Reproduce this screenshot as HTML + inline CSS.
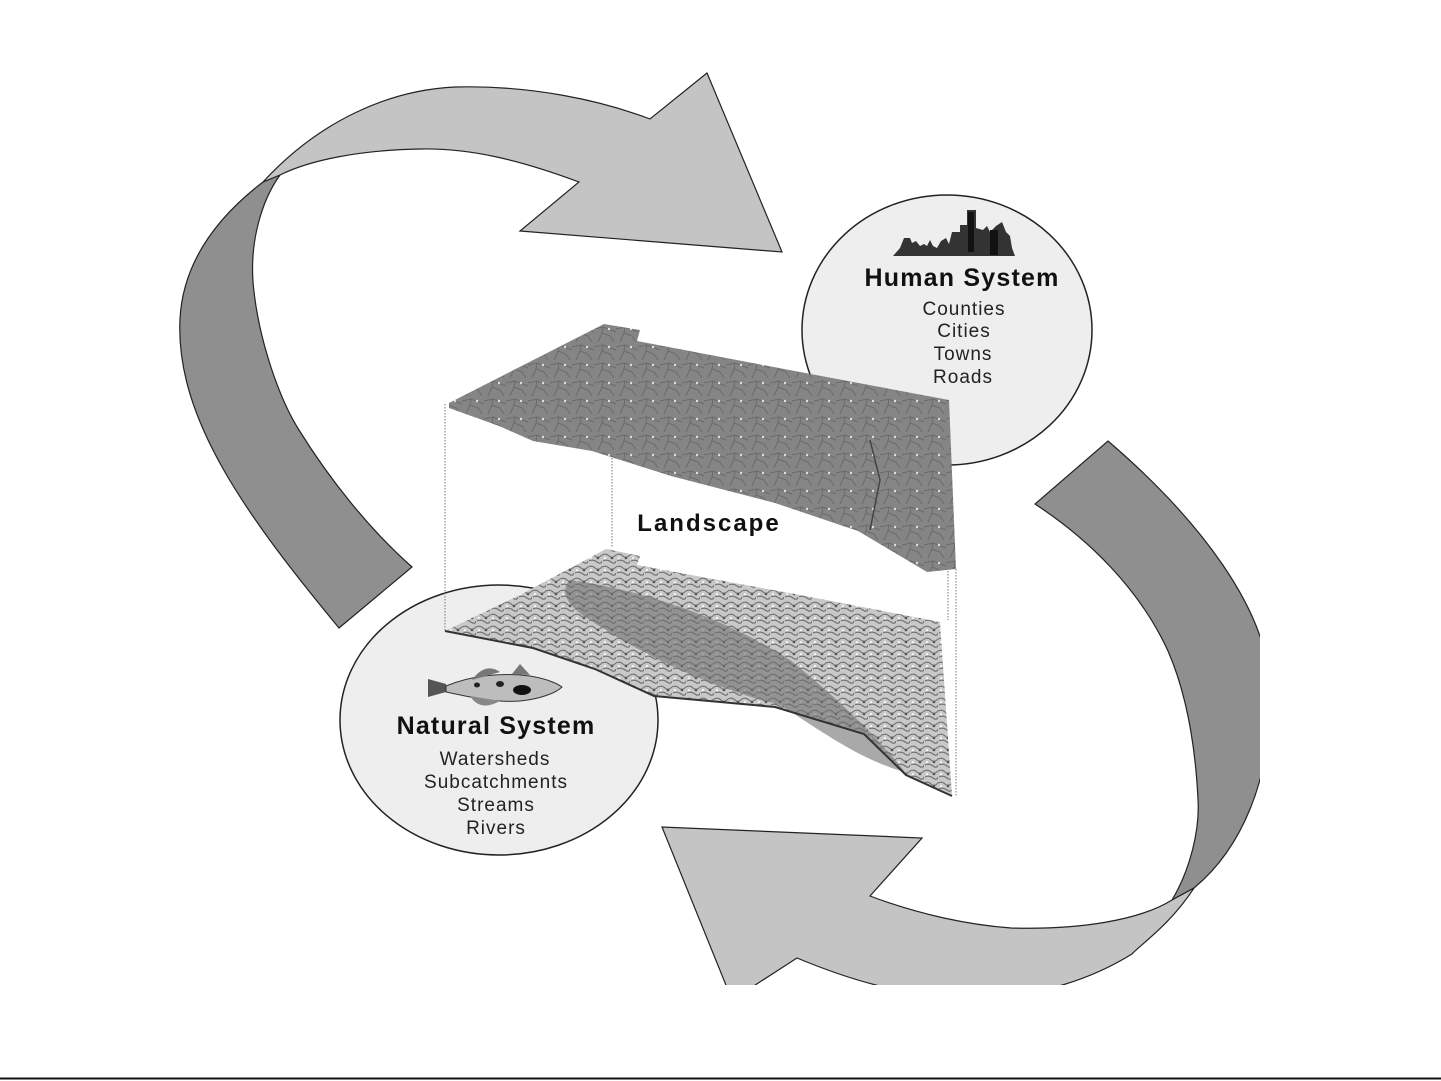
<!DOCTYPE html>
<html><head><meta charset="utf-8"><style>
html,body{margin:0;padding:0;background:#fff;}
svg{display:block;}
</style></head><body>
<svg width="1441" height="1081" viewBox="0 0 1441 1081" xmlns="http://www.w3.org/2000/svg">
<defs>
<clipPath id="cl"><rect x="0" y="0" width="1260" height="985"/></clipPath>
<pattern id="mapP" width="22" height="18" patternUnits="userSpaceOnUse">
<rect width="22" height="18" fill="#858585"/>
<path d="M0 5 L9 3 L22 8 M4 18 L8 9 L16 12 L20 18 M9 3 L8 9" stroke="#6a6a6a" stroke-width="1" fill="none"/>
<circle cx="15" cy="5" r="1.2" fill="#e0e0e0"/>
</pattern>
<pattern id="terP" width="14" height="12" patternUnits="userSpaceOnUse">
<rect width="14" height="12" fill="#c8c8c8"/>
<path d="M0 3 Q4 1 7 4 T14 3 M1 9 Q5 7 9 10 T14 9" stroke="#6e6e6e" stroke-width="1.1" fill="none"/>
<circle cx="10" cy="6" r="1.3" fill="#555"/><circle cx="3" cy="6" r="1" fill="#fff"/>
</pattern>
</defs>

<line x1="0" y1="1078.5" x2="1441" y2="1078.5" stroke="#111" stroke-width="2"/>

<path d="M339,628 C250,520 175,420 180,319 C183,260 220,215 263,182 L280,175 C262,200 250,240 253,282 C258,340 280,400 299,430 C330,480 370,530 412,567 Z" fill="#8f8f8f" stroke="#222" stroke-width="1.2"/>
<path d="M263,182 C320,120 390,90 455,87 C530,85 600,100 650,119 L707,73 L782,252 L520,231 L579,182 C520,160 470,148 421,149 C360,150 310,160 280,175 Z" fill="#c4c4c4" stroke="#222" stroke-width="1.2"/>

<g clip-path="url(#cl)">
<path d="M1108,441 C1200,520 1268,610 1270,688 C1273,780 1240,850 1194,888 L1172,900 C1190,870 1200,830 1198,799 C1195,740 1185,690 1168,651 C1140,590 1090,540 1035,504 Z" fill="#8f8f8f" stroke="#222" stroke-width="1.2"/>
<path d="M1194,888 C1170,925 1140,945 1132,954 C1090,980 1040,995 991,997 C910,1000 850,980 797,958 L732,1000 L662,827 L922,838 L870,896 C920,915 970,925 1011,928 C1080,930 1140,920 1172,900 Z" fill="#c4c4c4" stroke="#222" stroke-width="1.2"/>
</g>

<ellipse cx="947" cy="330" rx="145" ry="135" fill="#eeeeee" stroke="#222" stroke-width="1.5"/>
<ellipse cx="499" cy="720" rx="159" ry="135" fill="#eeeeee" stroke="#222" stroke-width="1.5"/>

<path d="M893,256 L900,248 L904,238 L910,238 L912,243 L916,241 L920,246 L924,244 L927,246 L930,240 L933,246 L937,248 L941,241 L946,238 L949,244 L952,232 L960,232 L960,225 L967,225 L967,210 L976,210 L976,228 L983,230 L987,226 L990,232 L996,226 L1002,222 L1006,232 L1010,236 L1012,248 L1015,256 Z" fill="#333"/>
<rect x="968" y="212" width="6" height="40" fill="#111"/>
<rect x="990" y="230" width="8" height="25" fill="#111"/>

<path d="M428,679 L446,684 L446,692 L428,697 Z" fill="#555"/>
<path d="M446,686 C470,676 500,672 530,676 C548,679 558,684 562,687 C556,693 540,699 520,701 C495,703 470,697 446,692 Z" fill="#bdbdbd" stroke="#333" stroke-width="1"/>
<ellipse cx="522" cy="690" rx="9" ry="5" fill="#111"/>
<ellipse cx="500" cy="684" rx="4" ry="3" fill="#222"/><ellipse cx="477" cy="685" rx="3" ry="2.5" fill="#222"/>
<path d="M472,680 Q485,662 500,672 Z" fill="#777"/>
<path d="M470,696 Q480,712 500,701 Z" fill="#888"/>
<path d="M512,674 L520,664 L530,675 Z" fill="#777"/>

<g stroke="#777" stroke-width="1" stroke-dasharray="1.5,1.5">
<line x1="445" y1="404" x2="445" y2="631"/>
<line x1="612" y1="332" x2="612" y2="547"/>
<line x1="948" y1="400" x2="948" y2="620"/>
<line x1="956" y1="569" x2="956" y2="796"/>
</g>

<path d="M604,324 L640,330 L637,341 L800,372 L949,400 L956,569 L927,572 L858,531 L775,503 L671,476 L592,451 L533,441 L499,426 L449,408 L449,403 Z" fill="url(#mapP)"/>
<path d="M870,440 L880,480 L870,530" stroke="#444" stroke-width="1.5" fill="none"/>

<path d="M606,549 L640,556 L637,565 L800,595 L940,622 L952,796 L906,775 L864,734 L775,707 L654,696 L595,669 L533,648 L445,631 L520,595 Z" fill="url(#terP)"/>
<path d="M570,580 C640,590 720,615 790,660 C840,700 880,740 905,772 C860,760 820,730 780,705 C720,690 650,660 590,620 C565,605 560,590 570,580 Z" fill="#6f6f6f" opacity="0.6"/>
<path d="M445,631 L533,648 L595,669 L654,696 L775,707 L864,734 L906,775 L952,796" stroke="#333" stroke-width="2" fill="none"/>

<g font-family="'Liberation Sans', sans-serif" text-anchor="middle">
<text x="962" y="286" font-size="25" font-weight="bold" letter-spacing="1.2" fill="#111">Human System</text>
<g font-size="19" fill="#222" letter-spacing="1">
<text x="964" y="315">Counties</text>
<text x="964" y="337">Cities</text>
<text x="963" y="360">Towns</text>
<text x="963" y="383">Roads</text>
</g>
<text x="496" y="734" font-size="25" font-weight="bold" letter-spacing="1.2" fill="#111">Natural System</text>
<g font-size="19" fill="#222" letter-spacing="1">
<text x="495" y="765">Watersheds</text>
<text x="496" y="788">Subcatchments</text>
<text x="496" y="811">Streams</text>
<text x="496" y="834">Rivers</text>
</g>
<text x="709" y="531" font-size="24" font-weight="bold" letter-spacing="2" fill="#111">Landscape</text>
</g>
</svg>
</body></html>
